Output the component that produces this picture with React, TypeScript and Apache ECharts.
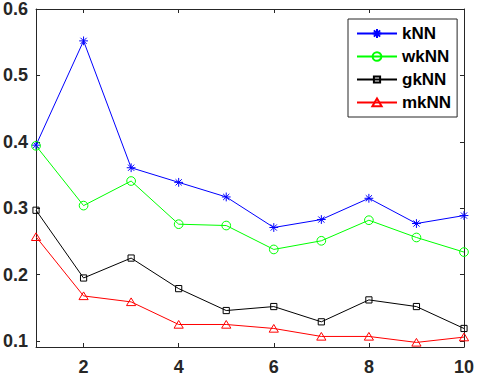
import React, { useEffect, useRef } from "react";
import * as echarts from "echarts";

const categories = ["1", "2", "3", "4", "5", "6", "7", "8", "9", "10"];
const knn = [0.395, 0.552, 0.361, 0.339, 0.317, 0.271, 0.283, 0.315, 0.277, 0.289];
const wknn = [0.394, 0.304, 0.341, 0.276, 0.274, 0.238, 0.251, 0.282, 0.256, 0.234];
const gknn = [0.297, 0.195, 0.225, 0.179, 0.146, 0.152, 0.129, 0.162, 0.152, 0.119];
const mknn = [0.257, 0.168, 0.159, 0.125, 0.125, 0.119, 0.107, 0.107, 0.098, 0.106];
const yTicks = [0.1, 0.2, 0.3, 0.4, 0.5, 0.6];
const seriesNames = ["kNN", "wkNN", "gkNN", "mkNN"];

const PAD = "M0 0 M10 10 ";
const STAR = "path://" + PAD + "M5 0.6 L5 9.4 M0.6 5 L9.4 5 M1.9 1.9 L8.1 8.1 M1.9 8.1 L8.1 1.9";
const CIRC = "path://" + PAD + "M9.35 5 A4.35 4.35 0 1 1 0.65 5 A4.35 4.35 0 1 1 9.35 5 Z";
const SQR = "path://" + PAD + "M1.9 1.9 L8.1 1.9 L8.1 8.1 L1.9 8.1 Z";
const TRI = "path://" + PAD + "M5 1 L9.6 8.7 L0.4 8.7 Z";

const AX = "#262626";
const FONT = "'Liberation Sans', Arial, sans-serif";

export default function App() {
  const ref = useRef<HTMLDivElement>(null);
  useEffect(() => {
    if (!ref.current) return;
    const chart = echarts.init(ref.current, null, { renderer: "svg" });
    const mk = (name: string, data: number[], color: string, symbol: string) => ({
      name,
      type: "line",
      data,
      symbol,
      symbolSize: 10,
      showSymbol: true,
      lineStyle: { color, width: 1 },
      itemStyle: { color: "rgba(0,0,0,0)", borderColor: color, borderWidth: 1 },
      emphasis: { disabled: true },
    });
    const catAxisBase = {
      type: "category",
      data: categories,
      boundaryGap: false,
      axisLine: { lineStyle: { color: AX, width: 1 } },
      axisTick: {
        inside: true,
        length: 4,
        interval: (i: number) => i % 2 === 1,
        lineStyle: { color: AX },
      },
      splitLine: { show: false },
    };
    const valAxisBase = {
      type: "value",
      min: 0.0911,
      max: 0.6,
      axisLine: { show: true, lineStyle: { color: AX, width: 1 } },
      axisTick: { show: true, inside: true, length: 4, customValues: yTicks, lineStyle: { color: AX } },
      splitLine: { show: false },
    };
    chart.setOption({
      animation: false,
      backgroundColor: "#ffffff",
      grid: { left: 33, right: 11, top: 6, bottom: 28, containLabel: false },
      legend: {
        orient: "vertical",
        left: 348,
        top: 19,
        data: seriesNames,
        itemWidth: 40,
        itemHeight: 12.5,
        itemGap: 6,
        padding: [6, 6, 6, 8],
        borderColor: AX,
        borderWidth: 1,
        backgroundColor: "#ffffff",
        selectedMode: false,
        textStyle: { fontFamily: FONT, fontWeight: "bold", fontSize: 17, color: "#000000", lineHeight: 17 },
      },
      xAxis: [
        {
          ...catAxisBase,
          position: "bottom",
          axisLabel: {
            interval: (i: number) => i % 2 === 1,
            margin: 11,
            color: AX,
            fontFamily: FONT,
            fontWeight: "bold",
            fontSize: 18,
          },
        },
        {
          ...catAxisBase,
          position: "top",
          axisLabel: { show: false },
        },
      ],
      yAxis: [
        {
          ...valAxisBase,
          position: "left",
          axisLabel: {
            customValues: yTicks,
            formatter: (v: number) => v.toFixed(1),
            margin: 8,
            color: AX,
            fontFamily: FONT,
            fontWeight: "bold",
            fontSize: 18,
          },
        },
        {
          ...valAxisBase,
          position: "right",
          axisLabel: { show: false },
        },
      ],
      series: [
        mk("kNN", knn, "#0000ff", STAR),
        mk("wkNN", wknn, "#00ff00", CIRC),
        mk("gkNN", gknn, "#000000", SQR),
        mk("mkNN", mknn, "#ff0000", TRI),
      ],
    });
    return () => chart.dispose();
  }, []);
  return (
    <div
      ref={ref}
      style={{ position: "fixed", left: 0, top: 0, width: 477, height: 376, background: "#fff" }}
    />
  );
}
